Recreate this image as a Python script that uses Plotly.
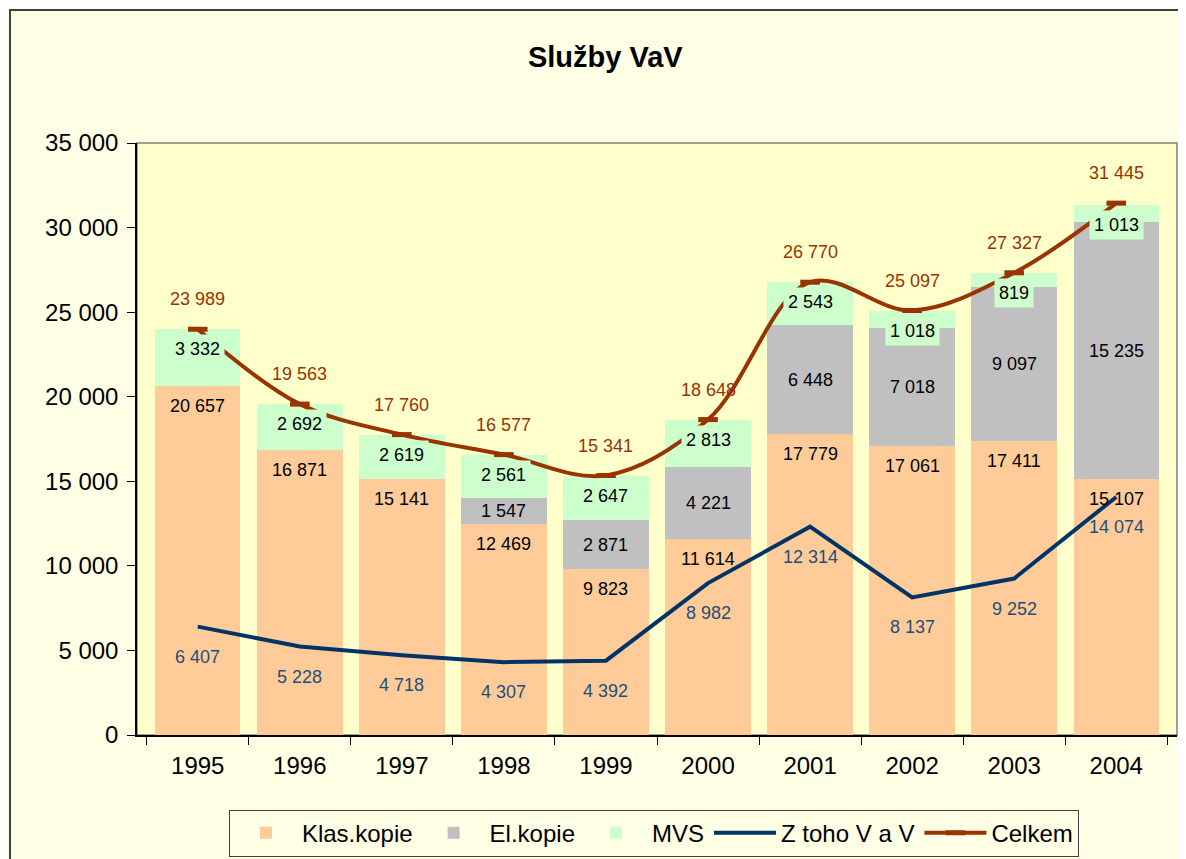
import plotly.graph_objects as go

years = ["1995", "1996", "1997", "1998", "1999", "2000", "2001", "2002", "2003", "2004"]
klas_kopie = [20657, 16871, 15141, 12469, 9823, 11614, 17779, 17061, 17411, 15107]
el_kopie = [0, 0, 0, 1547, 2871, 4221, 6448, 7018, 9097, 15235]
mvs = [3332, 2692, 2619, 2561, 2647, 2813, 2543, 1018, 819, 1013]
z_toho = [6407, 5228, 4718, 4307, 4392, 8982, 12314, 8137, 9252, 14074]
celkem = [23989, 19563, 17760, 16577, 15341, 18648, 26770, 25097, 27327, 31445]
y_ticks = [0, 5000, 10000, 15000, 20000, 25000, 30000, 35000]

C_KLAS = "#FFCC99"
C_EL = "#C0C0C0"
C_MVS = "#CCFFCC"
C_ZTOHO = "#003366"
C_CELK = "#993300"
FONT = "Arial, Liberation Sans, sans-serif"


def fmt(v):
    return f"{v:,}".replace(",", " ")


fig = go.Figure()
fig.add_trace(go.Bar(x=years, y=klas_kopie, name="Klas.kopie", marker=dict(color=C_KLAS, line=dict(width=0))))
fig.add_trace(go.Bar(x=years, y=el_kopie, name="El.kopie", marker=dict(color=C_EL, line=dict(width=0))))
fig.add_trace(go.Bar(x=years, y=mvs, name="MVS", marker=dict(color=C_MVS, line=dict(width=0))))
fig.add_trace(go.Scatter(x=years, y=z_toho, name="Z toho V a V", mode="lines",
                         line=dict(color=C_ZTOHO, width=4)))
fig.add_trace(go.Scatter(x=years, y=celkem, name="Celkem", mode="lines+markers",
                         line=dict(color=C_CELK, width=4, shape="spline", smoothing=1.0),
                         marker=dict(symbol="line-ew", size=14, line=dict(color=C_CELK, width=5))))

ann = []
lab_font = dict(family=FONT, size=18, color="black")
for i, yr in enumerate(years):
    k, e, m = klas_kopie[i], el_kopie[i], mvs[i]
    # category axis: annotation x given by category index
    ann.append(dict(x=i, y=k, text=fmt(k), showarrow=False, yanchor="middle", yshift=-20, font=lab_font))
    if e > 0:
        ann.append(dict(x=i, y=k + e / 2, text=fmt(e), showarrow=False, yanchor="middle", font=lab_font))
    ann.append(dict(x=i, y=k + e + m, text=fmt(m), showarrow=False, yanchor="middle", yshift=-20,
                    font=lab_font, bgcolor=C_MVS, borderpad=4))
    ann.append(dict(x=i, y=celkem[i], text=fmt(celkem[i]), showarrow=False, yanchor="middle", yshift=30,
                    font=dict(family=FONT, size=18, color=C_CELK)))
    ann.append(dict(x=i, y=z_toho[i], text=fmt(z_toho[i]), showarrow=False, yanchor="middle", yshift=-30,
                    font=dict(family=FONT, size=18, color="#1F4E79")))

shapes = [
    dict(type="rect", xref="paper", yref="paper", x0=0, y0=0, x1=1, y1=1,
         line=dict(color="#808080", width=1.5), layer="below"),
    dict(type="rect", xref="paper", yref="paper", x0=-0.1221, y0=-0.25, x1=1.03, y1=1.2247,
         line=dict(color="#404040", width=2)),
]

fig.update_layout(
    width=1178, height=851,
    margin=dict(l=129, r=9, t=135, b=124, autoexpand=False),
    paper_bgcolor="#FFFFE5",
    plot_bgcolor="#FFFFCC",
    barmode="stack",
    bargap=0.163,
    separators=", ",
    font=dict(family=FONT, size=24, color="black"),
    title=dict(text="<b>Služby VaV</b>", x=0.507, xref="container", y=0.9424, yref="container",
               xanchor="center", yanchor="middle", font=dict(family=FONT, size=29, color="black")),
    showlegend=True,
    legend=dict(orientation="h", x=0.497, xanchor="center", y=-0.126, yanchor="top",
                bgcolor="#FFFFE5", bordercolor="#404040", borderwidth=1,
                font=dict(family=FONT, size=24, color="black"), traceorder="normal",
                itemwidth=62),
    annotations=ann,
    shapes=shapes,
)
fig.update_xaxes(type="category", showline=True, linecolor="black", linewidth=1.5,
                 ticks="outside", tickson="boundaries", ticklen=8, tickcolor="black",
                 ticklabelstandoff=8, showgrid=False, tickfont=dict(size=24), tickangle=0)
fig.update_yaxes(range=[0, 35000], tickvals=y_ticks, tickformat=",d", showline=True,
                 linecolor="black", linewidth=1.5, ticks="outside", ticklen=8, tickcolor="black",
                 ticklabelstandoff=4, showgrid=False, zeroline=False, tickfont=dict(size=24))

fig.write_html("out.html")
